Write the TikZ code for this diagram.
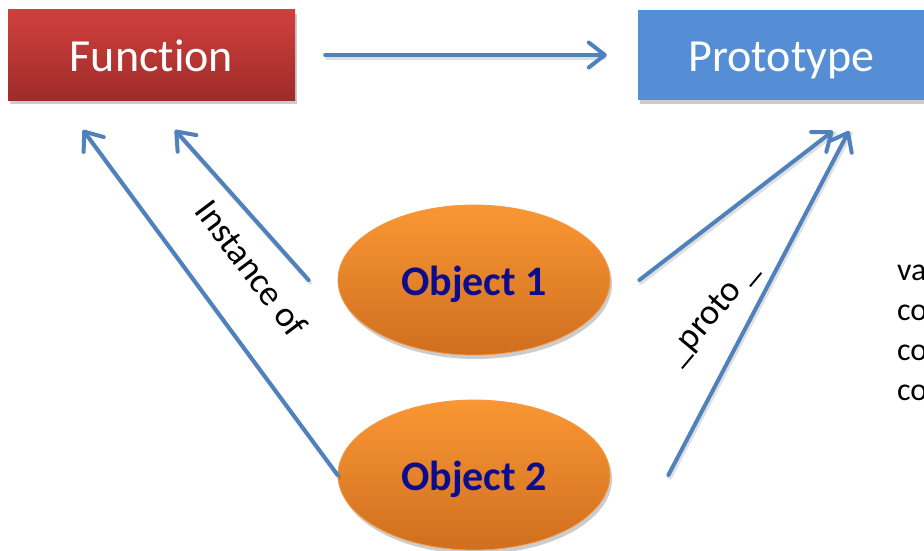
\documentclass[tikz,border=0pt]{standalone}
\usepackage{fontspec}
\setmainfont{Carlito}[Ligatures={NoCommon}]
\usetikzlibrary{arrows.meta,shapes.geometric,shadows,calc}

\definecolor{fnTop}{HTML}{D0403D}
\definecolor{fnBot}{HTML}{9E2C2A}
\definecolor{protoBlue}{HTML}{558ED5}
\definecolor{linkBlue}{HTML}{4F81BD}
\definecolor{objTop}{HTML}{FA9734}
\definecolor{objBot}{HTML}{CF6F1F}
\definecolor{objEdge}{HTML}{F79646}
\definecolor{objText}{HTML}{0C0C8C}

\begin{document}
\begin{tikzpicture}[x=1pt,y=-1pt,
  softshadow/.style={drop shadow={shadow xshift=2pt,shadow yshift=-4pt,opacity=0.25,fill=black!80}},
  classbox/.style={rectangle,minimum width=287pt,minimum height=90pt,inner sep=0pt,
    text height=38pt,text depth=4pt,
    text=white,font=\fontsize{46}{50}\selectfont,softshadow},
  objnode/.style={ellipse,minimum width=272pt,minimum height=150pt,inner sep=0pt,
    text height=34pt,text depth=4pt,
    draw=objEdge,line width=0.8pt,top color=objTop,bottom color=objBot,
    text=objText,font=\bfseries\fontsize{42}{46}\selectfont,softshadow},
  link/.style={draw=linkBlue,line width=4pt,line cap=round,
    -{Straight Barb[round,length=16pt,width=25pt]}},
  linkshadow/.style={draw=black,opacity=0.12,line width=4.4pt,line cap=round,
    transform canvas={xshift=1.5pt,yshift=-2.5pt}},
  tag/.style={font=\fontsize{36}{40}\selectfont,inner sep=0pt},
  side/.style={font=\fontsize{32}{36}\selectfont,anchor=base west,inner sep=0pt}]

\useasboundingbox (0,0) rectangle (924,551);

% class boxes
\node[classbox,top color=fnTop,bottom color=fnBot] (fn) at (151.5,55) {Function};
\node[classbox,fill=protoBlue] (proto) at (781.5,55) {Prototype};

% object instances
\node[objnode] (obj1) at (474,280) {Object 1};
\node[objnode] (obj2) at (474,475) {Object 2};

% arrow end points below the boxes
\coordinate (fnA) at (83,130);
\coordinate (fnB) at (175,130);
\coordinate (prA) at (833,131);
\coordinate (prB) at (849,131);

% faint shadows under the connectors
\draw[linkshadow] ([xshift=30pt]fn.east) -- ([xshift=-35pt]proto.west);
\draw[linkshadow] (obj2.west) -- (fnA);
\draw[linkshadow] ([xshift=-29pt]obj1.west) -- (fnB);
\draw[linkshadow] ([xshift=29pt]obj1.east) -- (prA);
\draw[linkshadow] ([xshift=58pt]obj2.east) -- (prB);

% connectors
\draw[link,shorten <=30pt,shorten >=31pt] (fn.east) -- (proto.west);
\draw[link] (obj2.west) -- (fnA);
\draw[link] ([xshift=-29pt]obj1.west) -- (fnB);
\draw[link] ([xshift=29pt]obj1.east) -- (prA);
\draw[link] ([xshift=58pt]obj2.east) -- (prB);

% connector labels
\node[tag,rotate=-53] (inst) at (252,268) {Instance of};
\node[tag,rotate=50] (pr) at (713,313) {\_proto \_};

% code lines at the right edge
\node[side] (c1) at (897,280) {va};
\node[side] (c2) at (897,320) {co};
\node[side] (c3) at (897,360) {co};
\node[side] (c4) at (897,400) {co};
\end{tikzpicture}
\end{document}
